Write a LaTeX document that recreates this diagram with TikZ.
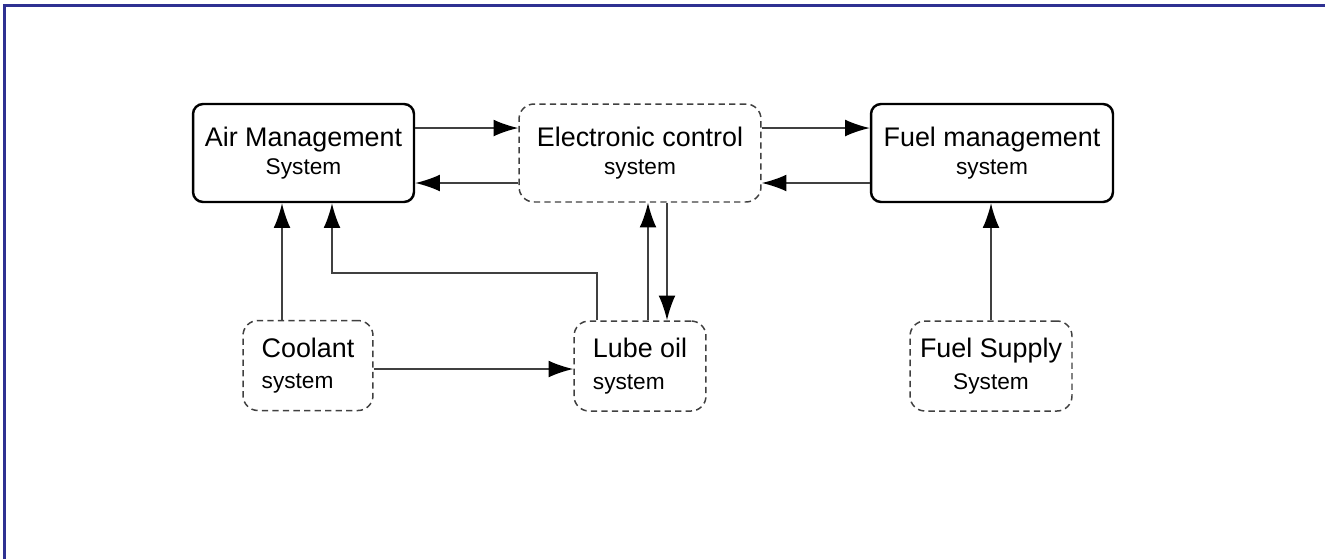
\documentclass[tikz,border=0pt]{standalone}
\usepackage{fontspec}
\setmainfont{Liberation Sans}
\usepackage{tikz}
\usetikzlibrary{arrows.meta, positioning}
\definecolor{frameblue}{RGB}{46,49,146}
\newcommand{\subline}[1]{{\fontsize{12.9}{16}\selectfont #1}}

\begin{document}
\begin{tikzpicture}[x=0.02cm, y=-0.02cm, >={Latex[length=14pt,width=9.5pt,color=black]},
    mainbox/.style={draw, line width=1.4pt, rounded corners=0.2cm, align=center,
      minimum height=1.96cm, font=\fontsize{15.3}{15.5}\selectfont},
    subbox/.style={draw=black!75, line width=0.85pt, dash pattern=on 3.6pt off 2.4pt,
      rounded corners=0.3cm, minimum height=1.8cm, font=\fontsize{15.3}{18}\selectfont},
    link/.style={->, draw=black!75, line width=0.9pt}]
  \useasboundingbox (0,0) rectangle (1325,559);
  % frame, top and left only
  \draw[frameblue, line width=1.5pt] (4.5,559) -- (4.5,5.3) -- (1325,5.3);
  % top row
  \node[mainbox, minimum width=4.42cm] (air) at (303.5,153) {Air Management\\\subline{System}};
  \node[subbox, align=center, minimum width=4.84cm, minimum height=1.96cm,
    font=\fontsize{15.3}{15.5}\selectfont] (ecu) at (640,153) {Electronic control\\\subline{system}};
  \node[mainbox, minimum width=4.84cm] (fuel) at (992,153) {Fuel management\\\subline{system}};
  % bottom row
  \node[subbox, align=left, minimum width=2.6cm] (cool) at (308,365.5) {Coolant\\\subline{system}};
  \node[subbox, align=left, minimum width=2.64cm] (lube) at (640,366) {Lube oil\\\subline{system}};
  \node[subbox, align=center, minimum width=3.24cm] (supply) at (991,366) {Fuel Supply\\\subline{System}};
  % links between top boxes
  \draw[link] ([yshift=0.5cm]air.east) -- ([yshift=0.5cm]ecu.west);
  \draw[link] ([yshift=-0.6cm]ecu.west) -- ([yshift=-0.6cm]air.east);
  \draw[link] ([yshift=0.5cm]ecu.east) -- ([yshift=0.5cm]fuel.west);
  \draw[link] ([yshift=-0.6cm]fuel.west) -- ([yshift=-0.6cm]ecu.east);
  % links from bottom row
  \draw[link] ([xshift=-0.52cm]cool.north) -- ([xshift=-0.52cm]cool.north |- air.south);
  \coordinate (bend) at (332,273);
  \draw[link] ([xshift=-0.86cm]lube.north) |- (bend) -- (bend |- air.south);
  \draw[link] ([xshift=0.16cm]lube.north) -- ([xshift=0.16cm]lube.north |- ecu.south);
  \draw[link] ([xshift=0.54cm]ecu.south) -- ([xshift=0.54cm]ecu.south |- lube.north);
  \draw[link] ([yshift=-0.07cm]cool.east) -- ([yshift=-0.07cm]cool.east -| lube.west);
  \draw[link] (supply.north) -- (supply.north |- fuel.south);
\end{tikzpicture}
\end{document}
